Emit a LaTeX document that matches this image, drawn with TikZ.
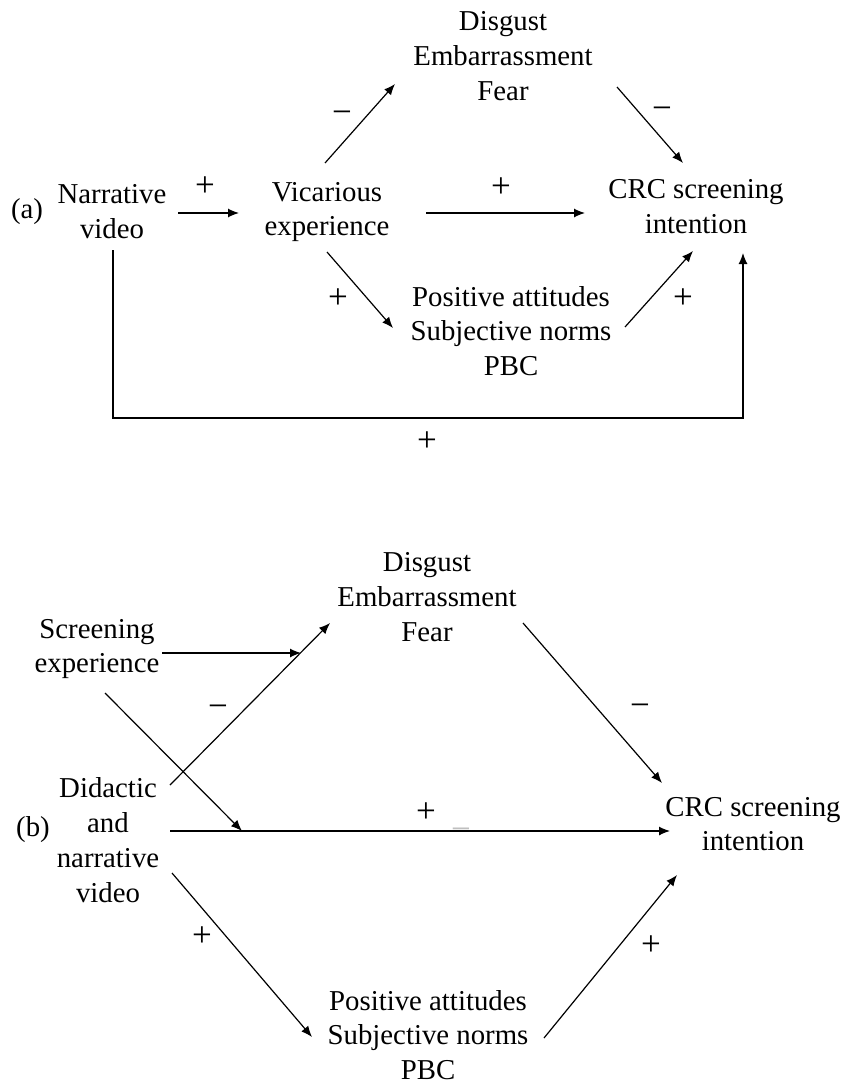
\documentclass[tikz,border=0pt]{standalone}
\usepackage{fontspec}
\setmainfont{Liberation Serif}
\usetikzlibrary{arrows.meta}

\begin{document}
\begin{tikzpicture}[
    x=0.5pt, y=-0.5pt,
    font=\fontsize{14.4}{17.4}\selectfont,
    box/.style={align=center, inner sep=0pt},
    sign/.style={inner sep=0pt, font=\fontsize{17.5}{18}\selectfont},
    link/.style={line width=0.6pt, -{Latex[length=5.5pt, width=4.5pt]}},
    line width=0.6pt
]
    \useasboundingbox (0,0) rectangle (844,1086);

    % ---------- Panel (a) ----------
    \node[box] (tag_a) at (27,212) {(a)};
    \node[box] (narr) at (112,212) {Narrative\\video};
    \node[box] (vic) at (327,212) {Vicarious\\experience};
    \node[box] (crc_a) at (696,207) {CRC screening\\intention};
    \node[box] (emo_a) at (503,56) {Disgust\\Embarrassment\\Fear};
    \node[box] (tpb_a) at (511,331) {Positive attitudes\\Subjective norms\\PBC};

    % Arrow ends
    \coordinate (narr_out) at (178,213);
    \coordinate (vic_in) at (239,213);
    \coordinate (vic_right) at (426,213);
    \coordinate (crc_a_left) at (585,213);
    \coordinate (vic_top) at (325,163);
    \coordinate (emo_a_in) at (395,84);
    \coordinate (emo_a_out) at (617,87);
    \coordinate (crc_a_top) at (683,163);
    \coordinate (vic_bot) at (327,252);
    \coordinate (tpb_a_in) at (393,328);
    \coordinate (tpb_a_out) at (625,327);
    \coordinate (crc_a_bot) at (693,251);
    \coordinate (narr_bot) at (113,250);
    \coordinate (crc_a_under) at (743,253);

    \draw[link] (narr_out) -- (vic_in);
    \draw[link] (vic_right) -- (crc_a_left);
    \draw[link] (vic_top) -- (emo_a_in);
    \draw[link] (emo_a_out) -- (crc_a_top);
    \draw[link] (vic_bot) -- (tpb_a_in);
    \draw[link] (tpb_a_out) -- (crc_a_bot);
    \draw[link] (narr_bot) -- (113,418) -- (743,418) -- (crc_a_under);

    % Signs
    \node[sign] at (205,187) {+};
    \node[sign] at (501,188) {+};
    \node[sign] at (342,117) {−};
    \node[sign] at (662,113) {−};
    \node[sign] at (338,299) {+};
    \node[sign] at (683,299) {+};
    \node[sign] at (427,442) {+};

    % ---------- Panel (b) ----------
    \node[box] (tag_b) at (33,830) {(b)};
    \node[box] (scr) at (97,649) {Screening\\experience};
    \node[box] (vid) at (108,840) {Didactic\\and\\narrative\\video};
    \node[box] (emo_b) at (427,597) {Disgust\\Embarrassment\\Fear};
    \node[box] (crc_b) at (753,824) {CRC screening\\intention};
    \node[box] (tpb_b) at (428,1035) {Positive attitudes\\Subjective norms\\PBC};

    % Arrow ends
    \coordinate (scr_right) at (162,653);
    \coordinate (mod_top) at (301,653);
    \coordinate (scr_bot) at (105,693);
    \coordinate (mod_mid) at (242,831);
    \coordinate (vid_top) at (170,785);
    \coordinate (emo_b_in) at (330,623);
    \coordinate (vid_right) at (170,831);
    \coordinate (crc_b_left) at (670,831);
    \coordinate (emo_b_out) at (523,623);
    \coordinate (crc_b_top) at (662,783);
    \coordinate (vid_bot) at (172,873);
    \coordinate (tpb_b_in) at (312,1037);
    \coordinate (tpb_b_out) at (544,1038);
    \coordinate (crc_b_bot) at (677,875);

    \draw[link] (scr_right) -- (mod_top);
    \draw[link] (vid_top) -- (emo_b_in);
    \draw[link] (scr_bot) -- (mod_mid);
    \draw[link] (vid_right) -- (crc_b_left);
    \draw[link] (emo_b_out) -- (crc_b_top);
    \draw[link] (vid_bot) -- (tpb_b_in);
    \draw[link] (tpb_b_out) -- (crc_b_bot);

    % Signs
    \node[sign] at (218,711) {−};
    \node[sign] at (640,710) {−};
    \node[sign] at (426,813) {+};
    \node[sign, text=black!25] at (461,834) {−};
    \node[sign] at (202,937) {+};
    \node[sign] at (651,946) {+};

\end{tikzpicture}
\end{document}
